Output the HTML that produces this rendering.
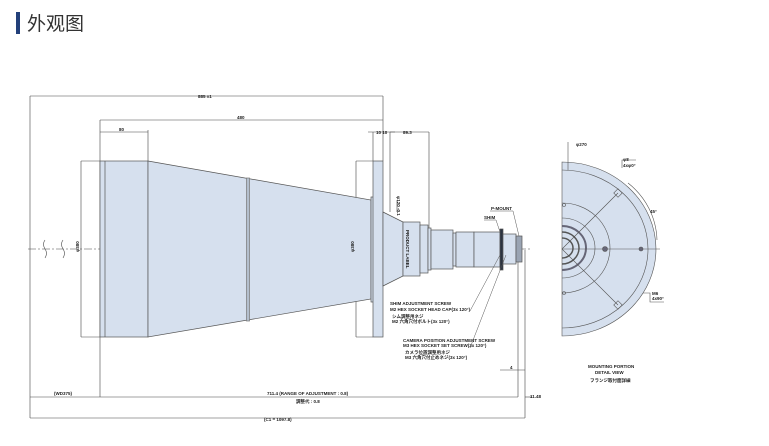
<!DOCTYPE html>
<html><head><meta charset="utf-8"><style>
body{margin:0;background:#fff;width:769px;height:446px;overflow:hidden}
svg{position:absolute;left:0;top:0}
text{font-family:"Liberation Sans","Noto Sans CJK JP",sans-serif;font-weight:bold;fill:#222}
</style></head><body>
<svg width="769" height="446" viewBox="0 0 769 446">
<rect x="16" y="12" width="4" height="22" fill="#23407a"/>
<text x="27" y="30" style="font-family:'Noto Sans CJK SC',sans-serif;font-weight:normal;font-size:19px;fill:#333">外观图</text>

<g stroke="#444" stroke-width="0.6" fill="none">
<line x1="30" y1="96" x2="383" y2="96"/>
<line x1="100" y1="120" x2="383" y2="120"/>
<line x1="100" y1="132" x2="148" y2="132"/>
<line x1="30" y1="96" x2="30" y2="418"/>
<line x1="100" y1="120" x2="100" y2="397"/>
<line x1="148" y1="130" x2="148" y2="161"/>
<line x1="383" y1="96" x2="383" y2="161"/>
<line x1="373" y1="132" x2="373" y2="161"/>
<line x1="390" y1="132" x2="390" y2="212"/>
<line x1="429" y1="132" x2="429" y2="228"/>
<line x1="368" y1="132" x2="395" y2="132"/>
<line x1="390" y1="132" x2="429" y2="132"/>
<line x1="81" y1="161" x2="81" y2="337"/>
<line x1="81" y1="161" x2="100" y2="161"/>
<line x1="81" y1="337" x2="100" y2="337"/>
<line x1="356" y1="161" x2="356" y2="337"/>
<line x1="356" y1="161" x2="373" y2="161"/>
<line x1="356" y1="337" x2="373" y2="337"/>
<line x1="397" y1="200" x2="397" y2="212"/>
<line x1="30" y1="397" x2="518" y2="397"/>
<line x1="30" y1="418" x2="525" y2="418"/>
<line x1="518" y1="250" x2="518" y2="397"/>
<line x1="525" y1="250" x2="525" y2="418"/>
<line x1="500" y1="370" x2="525" y2="370"/>
<line x1="525" y1="397" x2="532" y2="397"/>
<line x1="28" y1="249" x2="530" y2="249" stroke-dasharray="8,2,2,2"/>
<path d="M45,240 q-3,4 0,9 q3,4 0,9 M63,240 q-3,4 0,9 q3,4 0,9"/>
</g>

<g stroke="#555" stroke-width="0.7" fill="#d6e0ee">
<rect x="100" y="161" width="48" height="176"/>
<line x1="105" y1="161" x2="105" y2="337"/>
<polygon points="148,161 371,200 371,299 148,337"/>
<rect x="246.5" y="178" width="3" height="143" fill="#b4bfcd" stroke="#777"/>
<rect x="371" y="197" width="3" height="105"/>
<rect x="373" y="161" width="10" height="176"/>
<polygon points="383,212 403,222 403,276 383,286"/>
<rect x="403" y="222" width="17" height="54"/>
<rect x="420" y="225" width="8" height="48"/>
<rect x="428" y="228" width="3" height="42"/>
<rect x="431" y="230" width="22" height="39"/>
<rect x="453" y="233" width="3" height="33"/>
<rect x="456" y="232" width="18" height="35"/>
<rect x="474" y="232" width="26" height="35"/>
<rect x="500" y="229" width="3" height="41" fill="#2b3340"/>
<rect x="503" y="234" width="13" height="30"/>
<rect x="516" y="236" width="6" height="26" fill="#9aa4b3"/>
</g>

<g stroke="#555" stroke-width="0.5" fill="none">
<polyline points="490,211 513,211 519,236"/>
<polyline points="484,220 496,220 500,232"/>
<polyline points="470,311 500,255"/>
<polyline points="470,348 506,255"/>
</g>

<g font-size="4.5">
<text x="198" y="98">885 ±1</text>
<text x="237" y="119">480</text>
<text x="119" y="131">80</text>
<text x="376" y="134">10 10</text>
<text x="403" y="134">89.3</text>
<text x="0" y="0" transform="translate(79,252) rotate(-90)">φ380</text>
<text x="0" y="0" transform="translate(354,252) rotate(-90)">φ380</text>
<text x="0" y="0" transform="translate(397,196) rotate(90)">φ120 -0.1</text>
<text x="0" y="0" transform="translate(406,230) rotate(90)">PRODUCT LABEL</text>
<text x="491" y="210">P-MOUNT</text>
<text x="484" y="219">SHIM</text>
<text x="390" y="305">SHIM ADJUSTMENT SCREW</text>
<text x="390" y="311">M2 HEX SOCKET HEAD CAP(3x 120°)</text>
<text x="392" y="318">シム調整用ネジ</text>
<text x="392" y="323">M2 六角穴付ボルト(3x 120°)</text>
<text x="403" y="342">CAMERA POSITION ADJUSTMENT SCREW</text>
<text x="403" y="347">M3 HEX SOCKET SET SCREW(3x 120°)</text>
<text x="405" y="354">カメラ位置調整用ネジ</text>
<text x="405" y="359">M3 六角穴付止めネジ(3x 120°)</text>
<text x="510" y="369">4</text>
<text x="530" y="398">11.48</text>
<text x="54" y="395">(WD375)</text>
<text x="267" y="395">711.4 (RANGE OF ADJUSTMENT : 0.8)</text>
<text x="296" y="403">調整代 : 0.8</text>
<text x="264" y="421">(C1 = 1097.8)</text>
<text x="576" y="146">φ270</text>
<text x="623" y="161">φ8</text>
<text x="623" y="167">4xφ0°</text>
<text x="650" y="213">45°</text>
<text x="652" y="295">M6</text>
<text x="652" y="300">4x90°</text>
<text x="588" y="368">MOUNTING PORTION</text>
<text x="595" y="374">DETAIL VIEW</text>
<text x="590" y="382">フランジ取付面詳細</text>
</g>

<g stroke="#555" stroke-width="0.6" fill="none">
<path d="M562,162 A94,87 0 0 1 562,336 Z" fill="#d6e0ee"/>
<path d="M562,170 A86,79 0 0 1 562,328"/>
<path d="M562,203 A48,45 0 0 1 562,293"/>
<path d="M562,218 A33,30 0 0 1 562,278"/>
<path d="M562,226 A24,22 0 0 1 562,270" stroke-width="2" stroke="#667"/>
<path d="M562,232 A17,16 0 0 1 562,264" stroke-width="1.5"/>
<path d="M562,238 A11,10 0 0 1 562,258" stroke-width="1.5"/>
<line x1="562" y1="249" x2="660" y2="249"/>
<line x1="562" y1="249" x2="618" y2="193"/>
<line x1="562" y1="249" x2="618" y2="305"/>
<rect x="615" y="190" width="6" height="6" transform="rotate(45 618 193)"/>
<rect x="615" y="302" width="6" height="6" transform="rotate(45 618 305)"/>
<circle cx="605" cy="249" r="2.5" fill="#667"/>
<circle cx="641" cy="249" r="2" fill="#667"/>
<circle cx="564" cy="205" r="1.5"/><circle cx="564" cy="293" r="1.5"/>
<line x1="568" y1="142" x2="568" y2="170"/>
<path d="M628,183 A75,75 0 0 1 657,240"/>
<polyline points="643,293 650,293 650,302 664,302"/>
<polyline points="622,168 622,160 636,160"/>
</g>
</svg>
</body></html>
